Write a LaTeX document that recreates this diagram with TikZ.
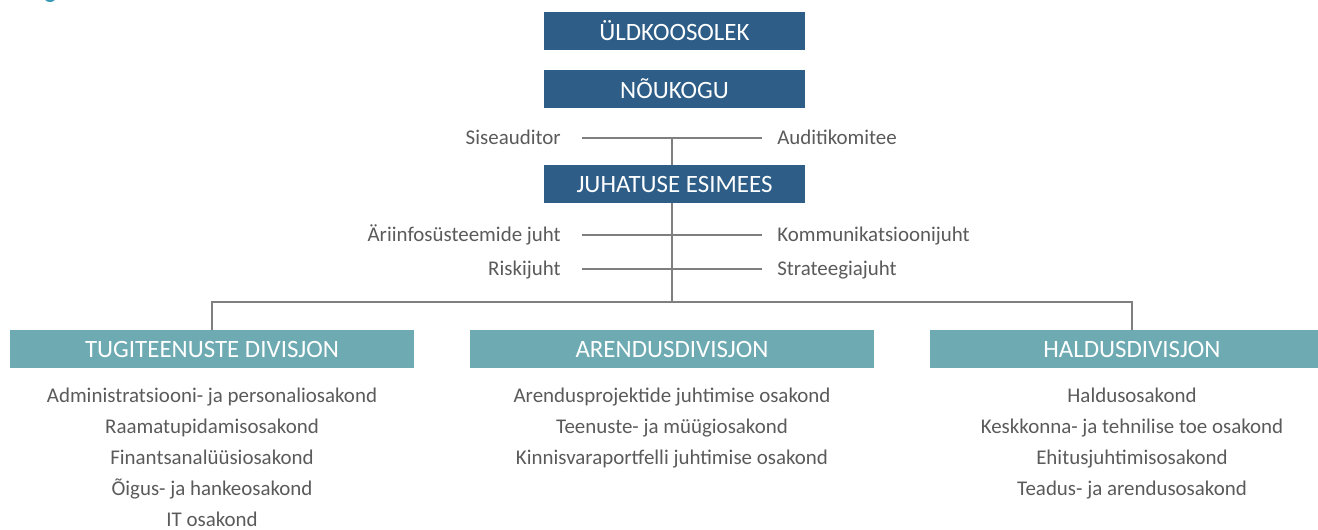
\documentclass[tikz,border=0pt]{standalone}
\usepackage{fontspec}
\setmainfont{Carlito}
\usetikzlibrary{calc}
\definecolor{boardblue}{HTML}{2E5E87}
\definecolor{divteal}{HTML}{6DAAB2}
\definecolor{linegray}{HTML}{7F7F7F}
\definecolor{txtgray}{HTML}{5A5A5A}
\definecolor{dotteal}{HTML}{3A9AB5}
\begin{document}
\begin{tikzpicture}[x=0.75pt,y=-0.75pt,
  topbox/.style={fill=boardblue,text=white,minimum width=195.75pt,minimum height=28.5pt,inner sep=0pt,font=\fontsize{18.7}{20}\selectfont},
  divbox/.style={fill=divteal,text=white,minimum width=303pt,minimum height=28.5pt,inner sep=0pt,font=\fontsize{18.7}{20}\selectfont},
  staff/.style={text=txtgray,inner sep=0pt,text height=12pt,text depth=3pt,font=\fontsize{15.7}{18}\selectfont},
  link/.style={draw=linegray,line width=1.1pt}]
\clip (0,0) rectangle (1318,529);
\fill[dotteal] (50,-3) ellipse (6 and 5);
% management
\node[topbox] (gm) at (674.5,31) {ÜLDKOOSOLEK};
\node[topbox] (board) at (674.5,89) {NÕUKOGU};
\node[topbox] (ceo) at (674.5,184) {JUHATUSE ESIMEES};
\foreach \nm/\yy/\lt/\rt in {audit/138/Siseauditor/Auditikomitee,bi/235/Äriinfosüsteemide juht/Kommunikatsioonijuht,risk/269/Riskijuht/Strateegiajuht}{
  \coordinate (\nm-l) at (582,\yy);
  \coordinate (\nm-r) at (762,\yy);
  \node[staff,anchor=east] (\nm-lt) at ($(\nm-l)+(-21,0)$) {\lt};
  \node[staff,anchor=west] (\nm-rt) at ($(\nm-r)+(15,0)$) {\rt};
  \draw[link] (\nm-l) -- (\nm-r);}
\coordinate (trunk) at (672,138);
\coordinate (bus) at (672,302);
\draw[link] (trunk) -- (trunk |- ceo.north);
\draw[link] (bus |- ceo.south) -- (bus);
% divisions
\node[divbox] (tug) at (212,349) {TUGITEENUSTE DIVISJON};
\node[divbox] (arend) at (672,349) {ARENDUSDIVISJON};
\node[divbox] (hald) at (1132,349) {HALDUSDIVISJON};
\draw[link] (tug.north) -- (tug.north |- bus) -- (hald.north |- bus) -- (hald.north);
\foreach \dep [count=\i] in {Administratsiooni- ja personaliosakond,Raamatupidamisosakond,Finantsanalüüsiosakond,Õigus- ja hankeosakond,IT osakond}
  \node[staff] (tug-\i) at (212,365+31*\i) {\dep};
\foreach \dep [count=\i] in {Arendusprojektide juhtimise osakond,Teenuste- ja müügiosakond,Kinnisvaraportfelli juhtimise osakond}
  \node[staff] (arend-\i) at (672,365+31*\i) {\dep};
\foreach \dep [count=\i] in {Haldusosakond,Keskkonna- ja tehnilise toe osakond,Ehitusjuhtimisosakond,Teadus- ja arendusosakond}
  \node[staff] (hald-\i) at (1132,365+31*\i) {\dep};
\end{tikzpicture}
\end{document}
